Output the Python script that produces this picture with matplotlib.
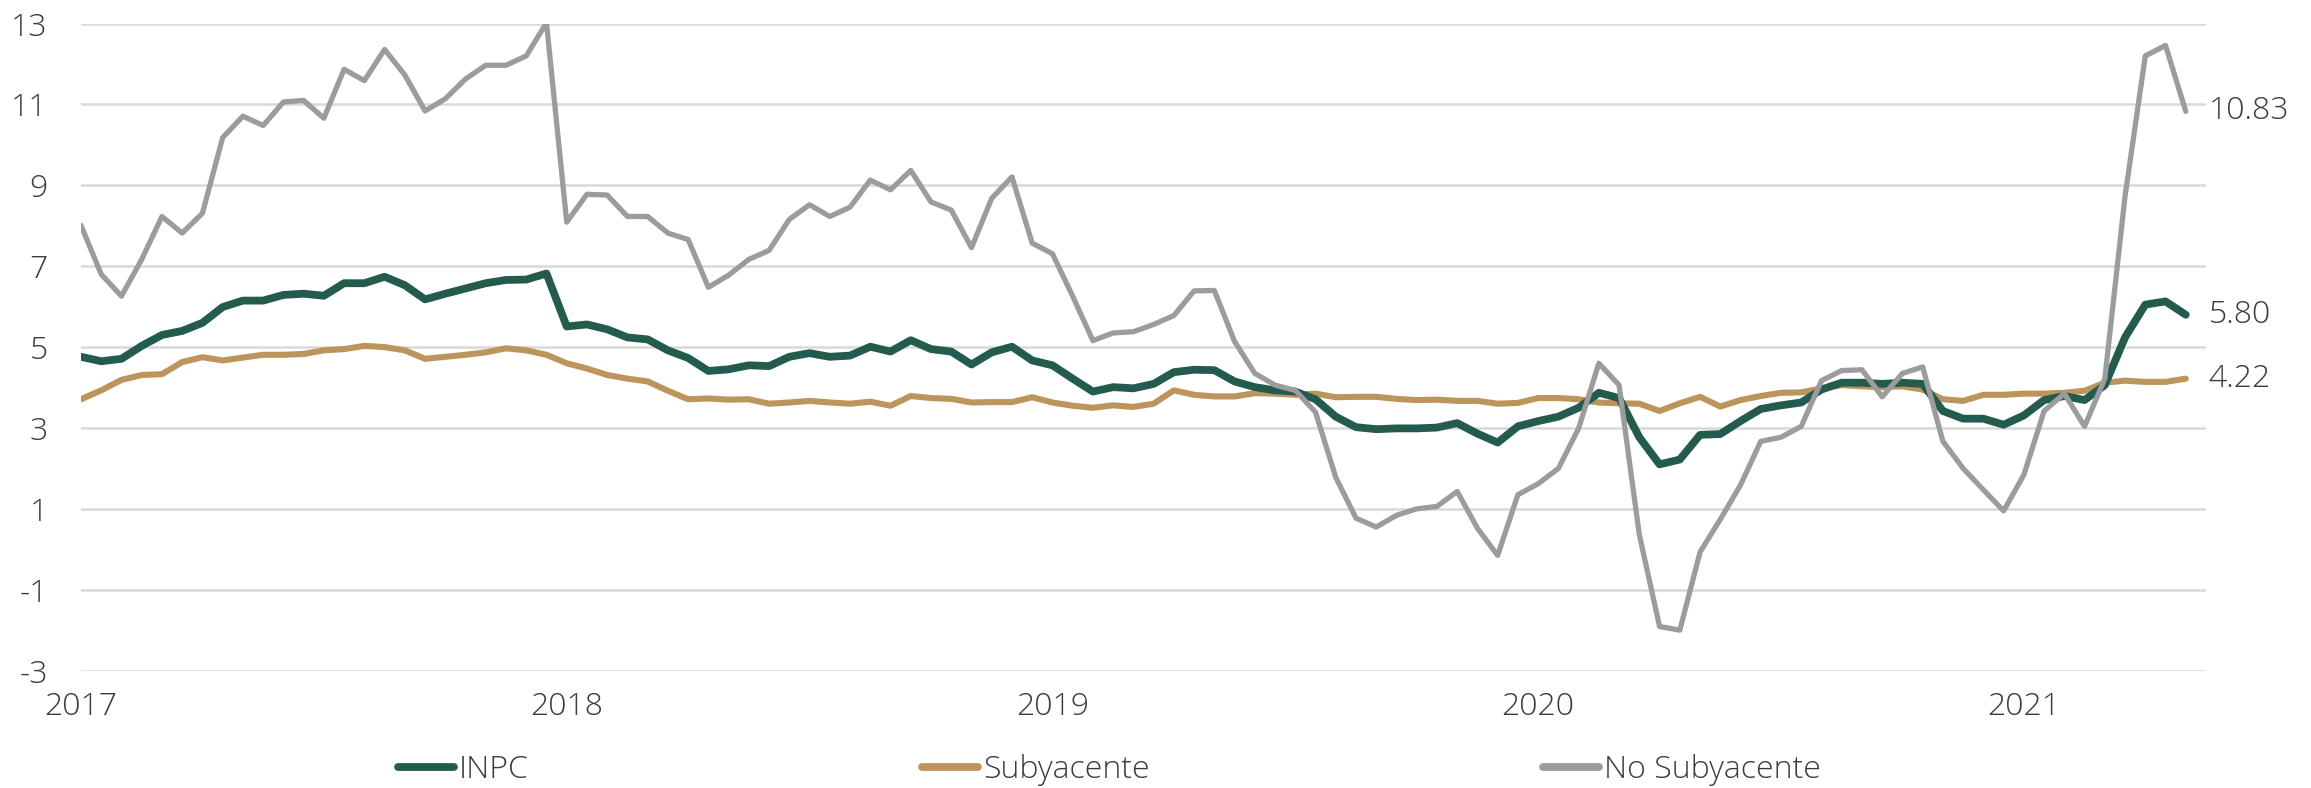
import matplotlib
matplotlib.use("Agg")
import matplotlib.pyplot as plt
import numpy as np

# ---- data (semi-monthly annual inflation, 1Q Jan 2017 .. 1Q May 2021) ----
years = ["2017", "2018", "2019", "2020", "2021"]
year_start_index = [0, 24, 48, 72, 96]

inpc = [4.76, 4.65, 4.71, 5.03, 5.30, 5.40, 5.60, 5.99, 6.15, 6.15, 6.29, 6.32, 6.27, 6.58, 6.58, 6.74, 6.53, 6.18,
        6.32, 6.45, 6.58, 6.66, 6.67, 6.82, 5.51, 5.56, 5.44, 5.24, 5.19, 4.92, 4.73, 4.41, 4.45, 4.55, 4.53, 4.76,
        4.85, 4.76, 4.79, 5.01, 4.89, 5.17, 4.95, 4.89, 4.57, 4.87, 5.01, 4.67, 4.55, 4.22, 3.90, 4.01, 3.98, 4.09,
        4.38, 4.44, 4.43, 4.15, 4.01, 3.93, 3.90, 3.71, 3.28, 3.02, 2.97, 2.99, 2.99, 3.01, 3.12, 2.86, 2.64, 3.04,
        3.17, 3.28, 3.50, 3.87, 3.74, 2.77, 2.10, 2.22, 2.83, 2.85, 3.17, 3.47, 3.56, 3.63, 3.95, 4.12, 4.12,
        4.09, 4.12, 4.09, 3.42, 3.23, 3.23, 3.08, 3.31, 3.69, 3.79, 3.69, 4.06, 5.24, 6.05, 6.13, 5.80]

subyacente = [3.71, 3.93, 4.19, 4.31, 4.33, 4.63, 4.75, 4.67, 4.74, 4.81, 4.81, 4.83, 4.92, 4.95, 5.03, 5.00, 4.92, 4.71,
              4.76, 4.81, 4.87, 4.97, 4.92, 4.81, 4.60, 4.47, 4.31, 4.22, 4.15, 3.92, 3.71, 3.73, 3.70, 3.71, 3.60, 3.63,
              3.67, 3.63, 3.60, 3.65, 3.55, 3.79, 3.74, 3.72, 3.63, 3.64, 3.64, 3.76, 3.63, 3.55, 3.50, 3.56, 3.52, 3.60,
              3.93, 3.82, 3.78, 3.78, 3.86, 3.85, 3.82, 3.85, 3.76, 3.77, 3.77, 3.72, 3.69, 3.70, 3.67, 3.67, 3.60, 3.62,
              3.74, 3.74, 3.71, 3.63, 3.61, 3.60, 3.42, 3.61, 3.77, 3.53, 3.69, 3.79, 3.87, 3.88, 3.98, 4.06, 4.03,
              4.01, 4.03, 3.95, 3.71, 3.67, 3.82, 3.82, 3.85, 3.85, 3.87, 3.92, 4.12, 4.17, 4.14, 4.14, 4.22]

no_subyacente = [8.01, 6.80, 6.26, 7.17, 8.23, 7.82, 8.31, 10.18, 10.71, 10.48, 11.06, 11.10, 10.66, 11.87, 11.59, 12.36, 11.73, 10.84,
                 11.14, 11.63, 11.97, 11.97, 12.20, 13.02, 8.09, 8.78, 8.76, 8.23, 8.23, 7.82, 7.66, 6.48, 6.78, 7.17, 7.39, 8.16,
                 8.52, 8.23, 8.46, 9.13, 8.89, 9.37, 8.59, 8.39, 7.46, 8.68, 9.21, 7.57, 7.31, 6.26, 5.16, 5.35, 5.38, 5.56,
                 5.78, 6.39, 6.40, 5.14, 4.35, 4.06, 3.93, 3.39, 1.78, 0.77, 0.55, 0.84, 1.00, 1.06, 1.43, 0.52, -0.15, 1.35,
                 1.62, 2.00, 2.99, 4.60, 4.06, 0.36, -1.91, -2.00, -0.07, 0.74, 1.59, 2.67, 2.77, 3.04, 4.17, 4.42, 4.44,
                 3.77, 4.35, 4.51, 2.67, 2.00, 1.47, 0.95, 1.84, 3.42, 3.85, 3.04, 4.22, 8.73, 12.20, 12.46, 10.83]

series_names = ["INPC", "Subyacente", "No Subyacente"]
y_ticks = [-3, -1, 1, 3, 5, 7, 9, 11, 13]

# ---- style ----
GREEN = "#235B4E"
GOLD = "#BC955C"
GREY = "#9C9C9E"
TEXT = "#3c3c3c"
FS = 23
FW = "light"

plt.rcParams["font.family"] = ["Open Sans", "DejaVu Sans"]
plt.rcParams["axes.unicode_minus"] = False

W, H, DPI = 2311, 788, 100
fig = plt.figure(figsize=(W / DPI, H / DPI), dpi=DPI)
ax = fig.add_axes([81 / W, 1 - 670.6 / H, (2206 - 81) / W, (670.6 - 23.6) / H])

x = np.arange(len(inpc))
l1, = ax.plot(x, inpc, color=GREEN, lw=5.6, solid_joinstyle="round", solid_capstyle="round", zorder=3)
l2, = ax.plot(x, subyacente, color=GOLD, lw=4.4, solid_joinstyle="round", solid_capstyle="round", zorder=2)
l3, = ax.plot(x, no_subyacente, color=GREY, lw=3.8, solid_joinstyle="round", solid_capstyle="round", zorder=4)

ax.set_xlim(0, len(inpc))
ax.set_ylim(-3, 13)
ax.set_yticks(y_ticks)
ax.set_yticklabels([str(v) for v in y_ticks])
ax.set_xticks(year_start_index)
ax.set_xticklabels(years)
ax.tick_params(axis="y", length=0, pad=24, labelsize=FS, labelcolor=TEXT)
ax.tick_params(axis="x", length=0, pad=15, labelsize=FS, labelcolor=TEXT)
for lab in ax.get_xticklabels() + ax.get_yticklabels():
    lab.set_fontweight(FW)

ax.grid(axis="y", color="#d9d9d9", lw=1.8, zorder=0)
ax.grid(axis="x", visible=False)
for s in ax.spines.values():
    s.set_visible(False)

# end labels
for series in (no_subyacente, inpc, subyacente):
    ax.annotate(f"{series[-1]:.2f}", xy=(x[-1], series[-1]), xytext=(16.5, 0),
                textcoords="offset points", ha="left", va="center",
                fontsize=FS, color=TEXT, fontweight=FW, annotation_clip=False)

leg = fig.legend([l1, l2, l3], series_names, loc="center",
                 bbox_to_anchor=(1109.5 / W, 1 - 770 / H), ncol=3, frameon=False,
                 fontsize=FS, handlelength=1.75, handletextpad=0.17, columnspacing=12.3,
                 borderpad=0, labelcolor=TEXT)
for t in leg.get_texts():
    t.set_fontweight(FW)
for h in leg.legend_handles:
    h.set_linewidth(5.6)
    h.set_solid_capstyle("round")

fig.savefig("out.png", dpi=DPI, facecolor="white")
